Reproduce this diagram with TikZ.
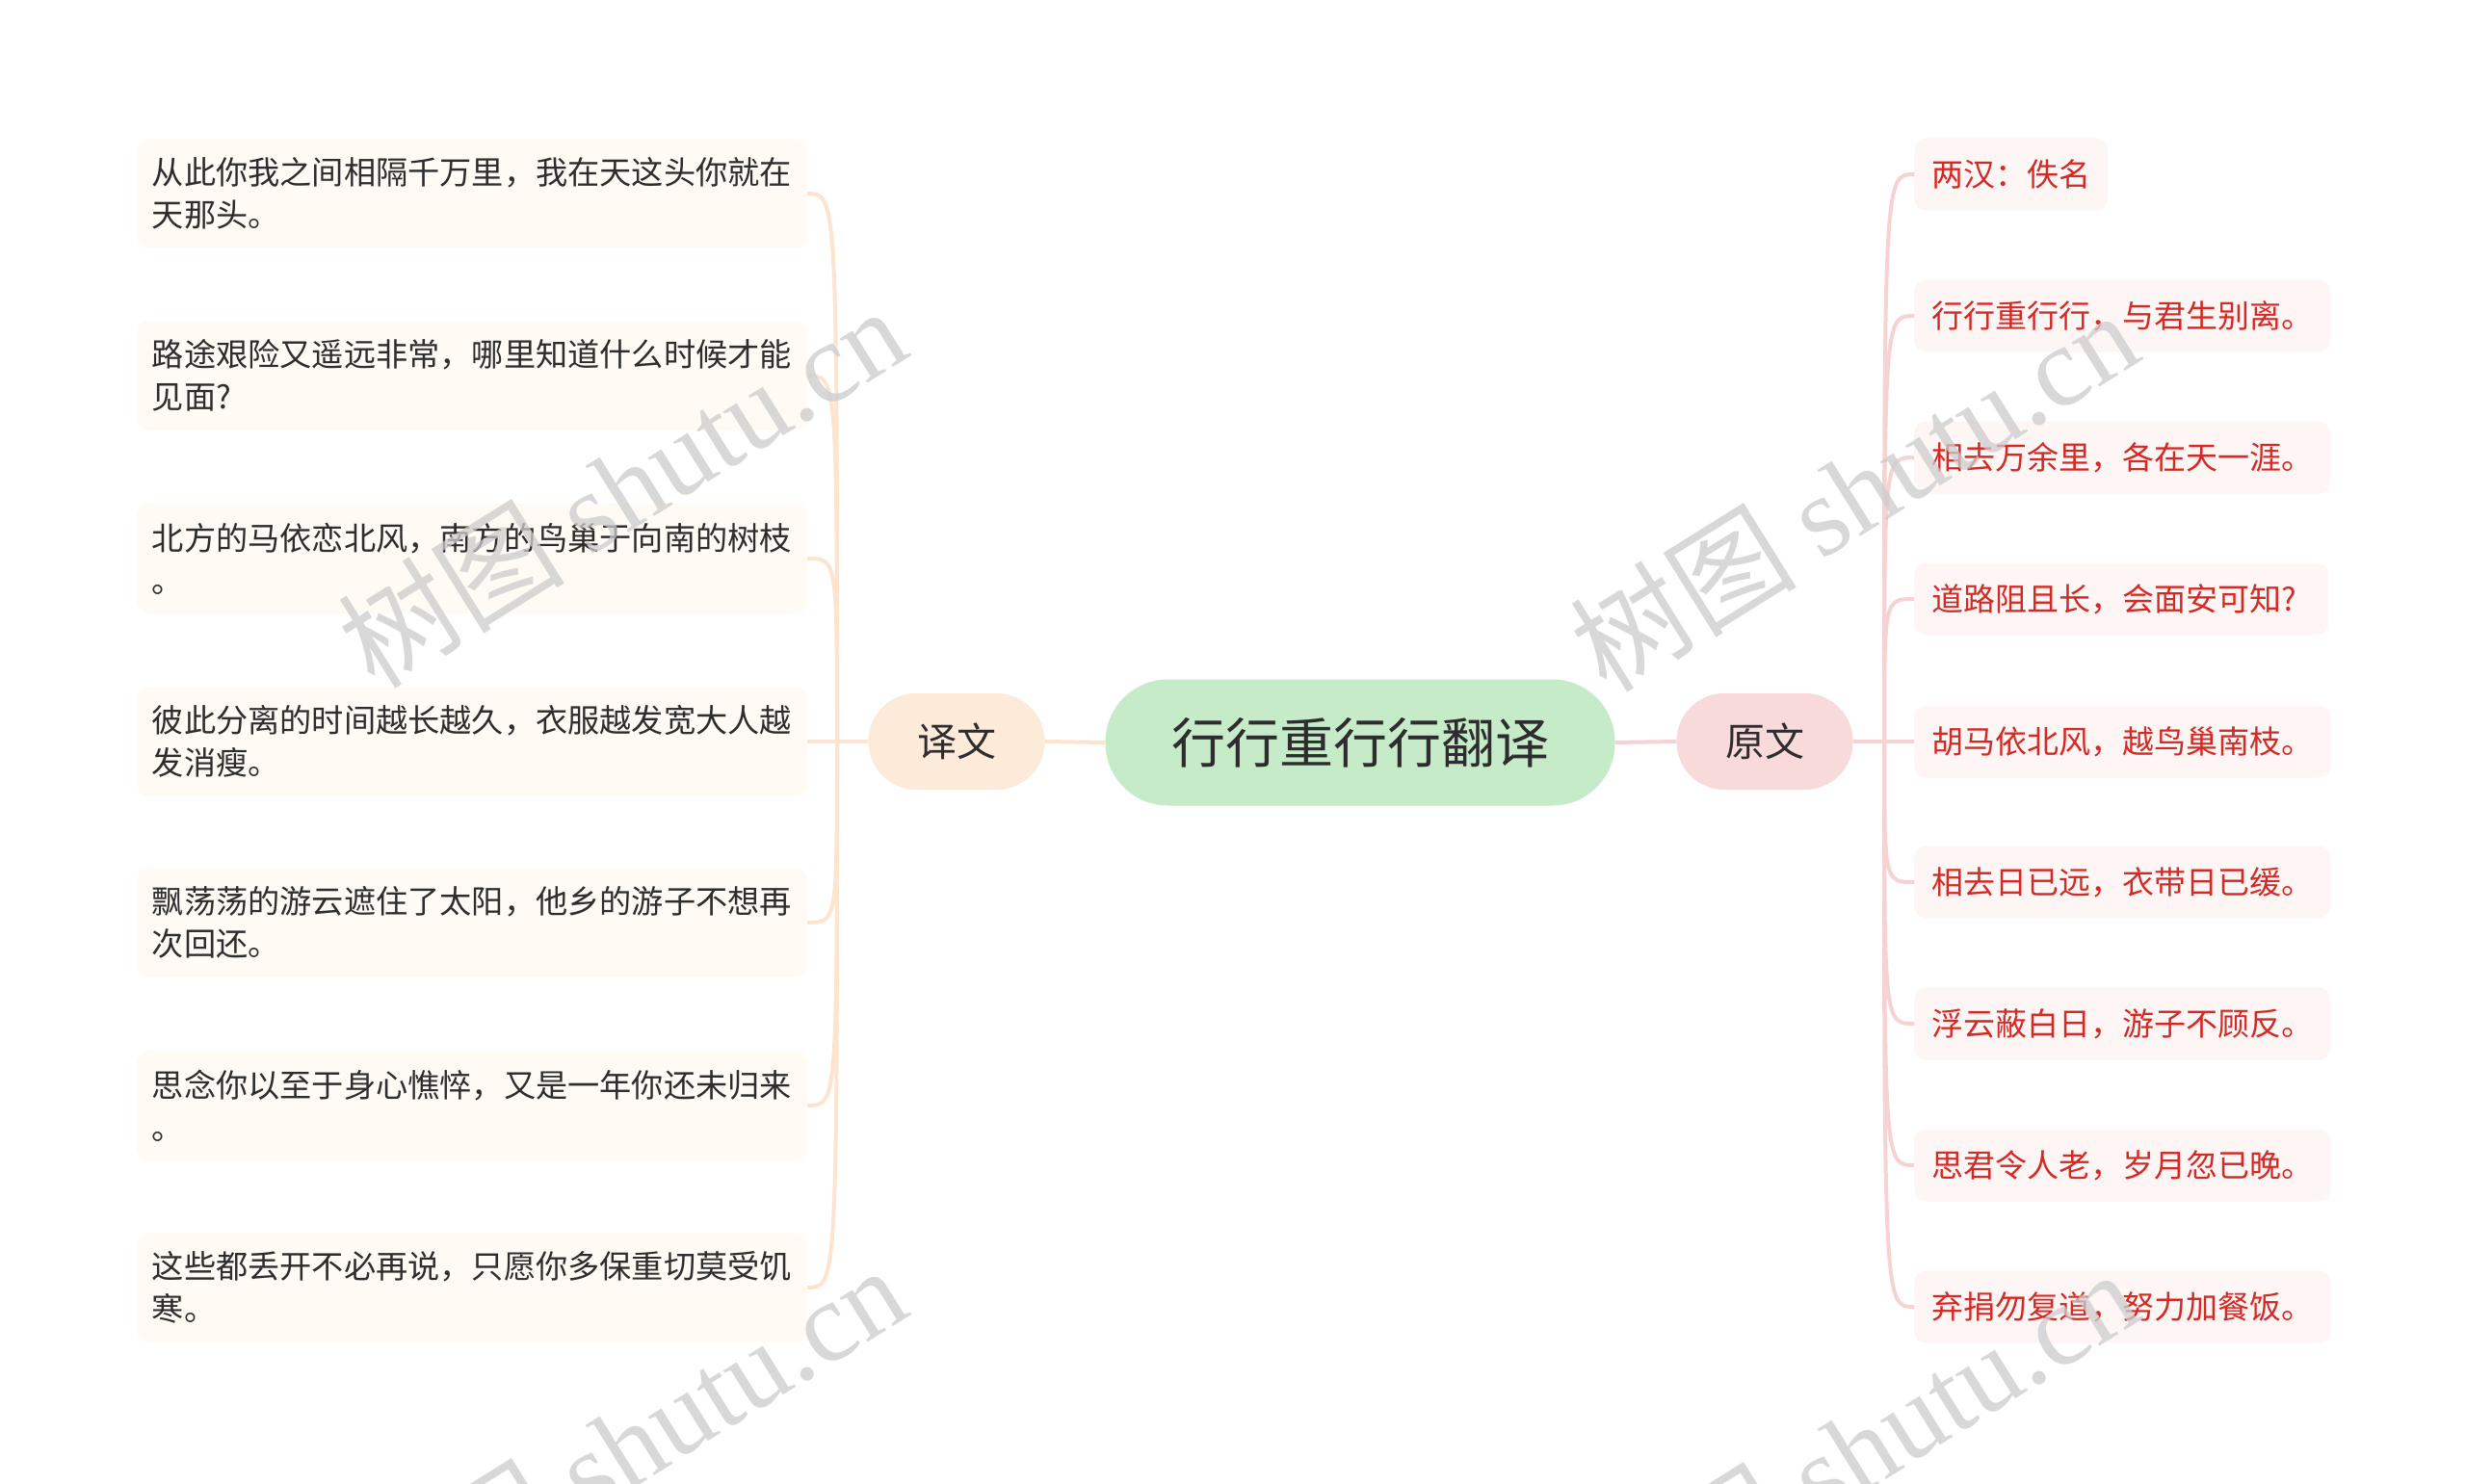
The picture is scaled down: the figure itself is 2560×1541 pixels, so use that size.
\documentclass[tikz,border=0pt]{standalone}
\usepackage{fontspec}
\setmainfont{Noto Sans CJK SC}
\newfontfamily\wmserif{Liberation Serif}
\usetikzlibrary{calc}
\definecolor{rootfill}{HTML}{C6EBC9}
\definecolor{lsubfill}{HTML}{FDEBD9}
\definecolor{rsubfill}{HTML}{F9DADA}
\definecolor{lleaffill}{HTML}{FFFAF4}
\definecolor{rleaffill}{HTML}{FEF5F5}
\definecolor{llinecol}{HTML}{FCE4CE}
\definecolor{rlinecol}{HTML}{F6D3D3}
\definecolor{inkcol}{HTML}{2D2D2D}
\definecolor{redtxt}{HTML}{D42A26}
\begin{document}
\begin{tikzpicture}[x=1pt,y=-1pt,
  rootnode/.style={fill=rootfill, rounded corners=65pt, minimum width=529pt, minimum height=131pt,
    inner sep=0pt, text=inkcol, font=\fontsize{56}{62}\selectfont},
  subnode/.style={rounded corners=49.5pt, minimum width=183pt, minimum height=100pt,
    inner sep=0pt, text=inkcol, font=\fontsize{41}{46}\selectfont},
  lleaf/.style={anchor=east, fill=lleaffill, rounded corners=13pt, text width=664pt, align=left,
    inner xsep=16pt, inner ysep=0pt, minimum height=114pt, text=inkcol, font=\fontsize{33.2}{44}\selectfont},
  rleaf/.style={anchor=west, fill=rleaffill, rounded corners=12pt, inner xsep=18pt, inner ysep=0pt,
    minimum height=75pt, text=redtxt, font=\fontsize{33}{40}\selectfont},
  lconn/.style={draw=llinecol, line width=4pt},
  rconn/.style={draw=rlinecol, line width=4pt},
  wm/.style={text=black!20, opacity=0.75, rotate=32, font=\fontsize{118}{130}\selectfont}
]
\useasboundingbox (0,0) rectangle (2560,1541);
\fill[white] (0,0) rectangle (2560,1541);

% main nodes
\node[rootnode] (root) at (1412,771) {行行重行行翻译};
\node[subnode, fill=lsubfill] (yiwen) at (993,770) {译文};
\node[subnode, fill=rsubfill] (yuanwen) at (1832,770) {原文};

% left leaves
\node[lleaf] (L1) at (838,201)  {从此你我之间相隔千万里，我在天这头你就在\\天那头。};
\node[lleaf] (L2) at (838,390)  {路途艰险又遥远非常，哪里知道什么时候才能\\见面?};
\node[lleaf] (L3) at (838,580)  {北方的马依恋北风，南方的鸟巢于向南的树枝\\。};
\node[lleaf] (L4) at (838,770)  {彼此分离的时间越长越久，衣服越发宽大人越\\发消瘦。};
\node[lleaf] (L5) at (838,958)  {飘荡荡的游云遮住了太阳，他乡的游子不想再\\次回还。};
\node[lleaf] (L6) at (838,1148) {思念你以至于身心憔悴，又是一年你还未归来\\。};
\node[lleaf] (L7) at (838,1337) {这些都丢开不必再说，只愿你多保重切莫受饥\\寒。};

% right leaves
\node[rleaf] (R1) at (1987,181)  {两汉：佚名};
\node[rleaf] (R2) at (1987,328)  {行行重行行，与君生别离。};
\node[rleaf] (R3) at (1987,475)  {相去万余里，各在天一涯。};
\node[rleaf, text width=394pt, align=left] (R4) at (1987,622)  {道路阻且长，会面安可知?};
\node[rleaf] (R5) at (1987,770)  {胡马依北风，越鸟巢南枝。};
\node[rleaf] (R6) at (1987,916)  {相去日已远，衣带日已缓。};
\node[rleaf] (R7) at (1987,1063) {浮云蔽白日，游子不顾反。};
\node[rleaf] (R8) at (1987,1210) {思君令人老，岁月忽已晚。};
\node[rleaf] (R9) at (1987,1357) {弃捐勿复道，努力加餐饭。};

\coordinate (jl) at (869,770);
\coordinate (jr) at (1956,770);

% connectors
\draw[lconn] (root.west) -- (yiwen.east);
\draw[rconn] (root.east) -- (yuanwen.west);
\draw[lconn] (yiwen.west) -- (L4.east);
\draw[rconn] (yuanwen.east) -- (R5.west);
\foreach \n in {L1,L2,L3,L5,L6,L7}{
  \draw[lconn] (jl) .. controls (jl |- \n.east) and (jl |- \n.east) .. (\n.east);
}
\foreach \n in {R1,R2,R3,R4,R6,R7,R8,R9}{
  \draw[rconn] (jr) .. controls (jr |- \n.west) and (jr |- \n.west) .. (\n.west);
}

% watermarks
\begin{scope}
\clip (0,0) rectangle (2560,1541);
\node[wm] (wm1) at (645,505)   {树图 {\wmserif shutu.cn}};
\node[wm] (wm2) at (1924,509)  {树图 {\wmserif shutu.cn}};
\node[wm] (wm3) at (645,1501)  {树图 {\wmserif shutu.cn}};
\node[wm] (wm4) at (1924,1505) {树图 {\wmserif shutu.cn}};
\end{scope}
\end{tikzpicture}
\end{document}
